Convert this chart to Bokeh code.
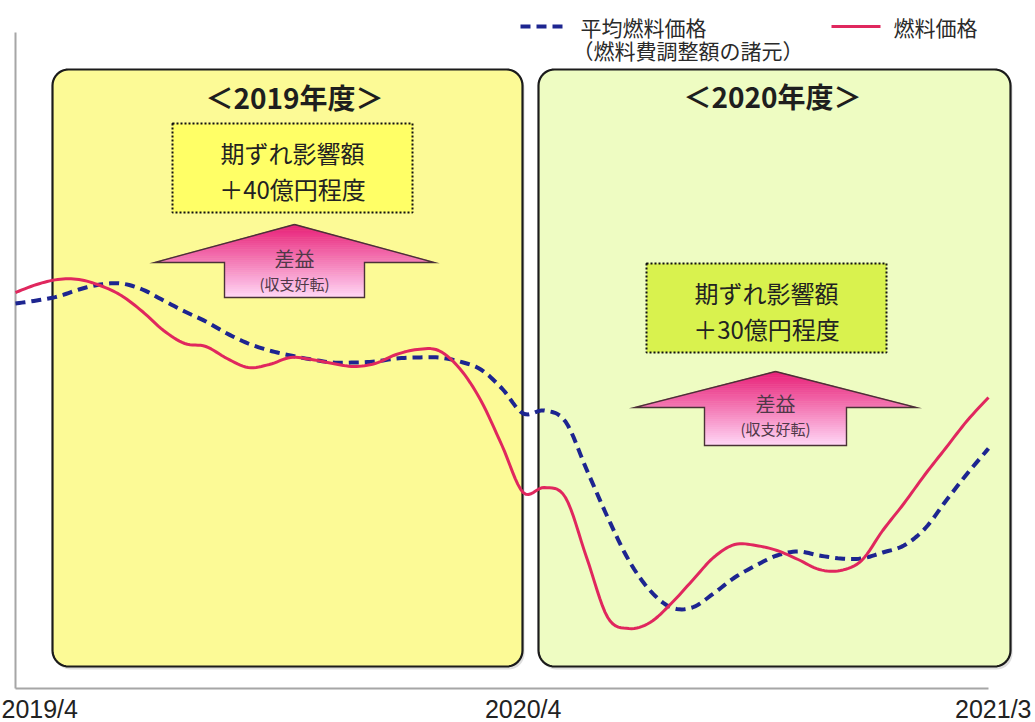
import math
from bokeh.plotting import figure
from bokeh.models import Range1d
from bokeh.core.properties import value
from bokeh.embed import file_html
from bokeh.resources import INLINE

# ---- data: half-month steps, 0 = 2019/4 ... 23 = 2021/3 (relative price level) ----
months = [i * 0.5 for i in range(47)]
fuel_price = [39.6, 40.4, 40.9, 40.9, 40.3, 39.3, 37.7, 35.8, 34.5, 34.2,
              33.0, 32.1, 32.4, 33.1, 32.9, 32.5, 32.2, 32.5, 33.4, 33.9,
              33.8, 32.0, 28.8, 24.3, 19.6, 20.1, 19.1, 13.1, 7.1, 6.0,
              6.6, 8.5, 10.8, 13.1, 14.4, 14.3, 13.8, 12.9, 11.9, 11.8,
              12.8, 15.8, 18.5, 21.4, 24.1, 26.8, 29.1]
avg_fuel_price = [38.5, 38.8, 39.2, 39.9, 40.4, 40.5, 39.9, 38.8, 37.7, 36.7,
                  35.5, 34.5, 33.8, 33.3, 32.9, 32.6, 32.6, 32.7, 33.0, 33.1,
                  33.1, 32.7, 31.9, 30.0, 27.5, 27.8, 26.7, 21.9, 17.1, 12.8,
                  9.8, 8.1, 8.1, 9.5, 11.1, 12.3, 13.3, 13.7, 13.3, 13.0,
                  13.0, 13.6, 14.3, 16.0, 18.8, 21.5, 24.0]
tick_months = [0, 12, 23]
tick_labels = ["2019/4", "2020/4", "2021/3"]
fy_labels = ["＜2019年度＞", "＜2020年度＞"]
impact_title = "期ずれ影響額"
impact_labels = ["＋40億円程度", "＋30億円程度"]
arrow_main = "差益"
arrow_sub = "(収支好転)"
legend_avg = ["平均燃料価格", "（燃料費調整額の諸元）"]
legend_fuel = "燃料価格"

# ---- canvas geometry ----
W, H = 1035, 722
X0, XPM = 15.0, 42.304   # pixel of month 0, pixels per month
Y0, YPU = 688.0, 10.0    # pixel of level 0, pixels per unit


def dx(px):
    return (px - X0) / XPM


def dy(py):
    return (Y0 - py) / YPU


def smooth_path(xs, ys, steps=8):
    """Catmull-Rom curve through the points, for a smoothed line style."""
    n = len(xs)
    ox, oy = [], []
    for i in range(n - 1):
        i0, i1, i2, i3 = max(i - 1, 0), i, i + 1, min(i + 2, n - 1)
        for s in range(steps):
            t = s / steps
            t2, t3 = t * t, t * t * t
            def cr(a):
                return 0.5 * (2 * a[i1] + (-a[i0] + a[i2]) * t +
                              (2 * a[i0] - 5 * a[i1] + 4 * a[i2] - a[i3]) * t2 +
                              (-a[i0] + 3 * a[i1] - 3 * a[i2] + a[i3]) * t3)
            ox.append(cr(xs))
            oy.append(cr(ys))
    ox.append(xs[-1])
    oy.append(ys[-1])
    return ox, oy


CJK = value("Noto Sans CJK JP")

p = figure(width=W, height=H, output_backend="svg", toolbar_location=None,
           x_range=Range1d(dx(0), dx(W)), y_range=Range1d(dy(H), dy(0)),
           x_axis_location=None, y_axis_location=None, min_border=0)
p.grid.visible = False
p.outline_line_color = None
p.background_fill_color = "white"
p.border_fill_color = "white"


def rounded_rect(x1, y1, x2, y2, r, n=10):
    pts = []
    corners = [((x1 + r, y1 + r), math.pi), ((x2 - r, y1 + r), 1.5 * math.pi),
               ((x2 - r, y2 - r), 0.0), ((x1 + r, y2 - r), 0.5 * math.pi)]
    for (cx, cy), a0 in corners:
        for i in range(n + 1):
            t = a0 + 0.5 * math.pi * i / n
            pts.append((cx + r * math.cos(t), cy + r * math.sin(t)))
    return [dx(a) for a, _ in pts], [dy(b) for _, b in pts]


# fiscal-year panels
panels = [(52, 69, 522, 666, "#FCFA96"), (538, 69, 1010, 666, "#EEFCC2")]
for (x1, y1, x2, y2, col) in panels:
    sx, sy = rounded_rect(x1 + 2, y1 + 3, x2 + 2, y2 + 3, 16)
    p.patch(sx, sy, fill_color="#bdbdbd", fill_alpha=0.5, line_color=None)
    xs, ys = rounded_rect(x1, y1, x2, y2, 16)
    p.patch(xs, ys, fill_color=col, line_color="#1b1b1b", line_width=2.2)

# panel headings
p.text(x=[dx(294), dx(772)], y=[dy(96), dy(95)], text=fy_labels,
       text_font=CJK, text_font_style="bold", text_font_size=value("28px"),
       text_color="#1e1e1e", text_align="center", text_baseline="middle")

# impact boxes
boxes = [(172, 123, 412, 212, "#FFFF66"), (646, 263, 886, 352, "#D9F24E")]
for i, (x1, y1, x2, y2, col) in enumerate(boxes):
    p.quad(left=dx(x1), right=dx(x2), top=dy(y1), bottom=dy(y2),
           fill_color=col, line_color="#111111", line_width=2, line_dash="2 2")
    cx = (x1 + x2) / 2
    p.text(x=[dx(cx), dx(cx)], y=[dy(y1 + 29), dy(y1 + 65)],
           text=[impact_title, impact_labels[i]], text_font=CJK,
           text_font_size=value("24px"), text_color="#222222",
           text_align="center", text_baseline="middle")


# up arrows with vertical pink gradient
def up_arrow(cx, ty, wy, ww, sw, by, nb=36):
    c_top = (232, 30, 118)
    c_bot = (255, 214, 246)

    def hw(y):
        return ww * (y - ty) / (wy - ty) if y <= wy else sw

    nh = int(nb * (wy - ty) / (by - ty))
    edges = [ty + (wy - ty) * i / nh for i in range(nh)] + \
            [wy + (by - wy) * i / (nb - nh) for i in range(nb - nh + 1)]
    xs_list, ys_list, cols = [], [], []
    for a, b in zip(edges[:-1], edges[1:]):
        if a >= wy:
            ha = hb = sw
        else:
            ha, hb = hw(a), hw(b)
        px = [cx - ha, cx + ha, cx + hb, cx - hb]
        py = [a, a, b, b]
        xs_list.append([dx(v) for v in px])
        ys_list.append([dy(v) for v in py])
        t = ((a + b) / 2 - ty) / (by - ty)
        c = tuple(int(round(c_top[k] + (c_bot[k] - c_top[k]) * t)) for k in range(3))
        cols.append("#%02x%02x%02x" % c)
    p.patches(xs_list, ys_list, fill_color=cols, line_color=cols, line_width=0.8)
    ox = [cx, cx + ww, cx + sw, cx + sw, cx - sw, cx - sw, cx - ww, cx]
    oy = [ty, wy, wy, by, by, wy, wy, ty]
    p.line([dx(v) for v in ox], [dy(v) for v in oy], line_color="#4a3236",
           line_width=1.4, line_join="miter")
    p.text(x=[dx(cx)], y=[dy(wy - 4)], text=[arrow_main], text_font=CJK,
           text_font_size=value("20px"), text_color="#4f3848",
           text_align="center", text_baseline="middle")
    p.text(x=[dx(cx)], y=[dy(wy + 21)], text=[arrow_sub], text_font=CJK,
           text_font_size=value("15px"), text_color="#4f3848",
           text_align="center", text_baseline="middle")


up_arrow(294, 224, 262, 140, 70, 297)
up_arrow(775, 371, 407, 141, 71, 445)

# axis lines
p.segment(x0=[dx(15), dx(15)], y0=[dy(32), dy(688)], x1=[dx(15), dx(988)],
          y1=[dy(688), dy(688)], line_color="#a6a6a6", line_width=2)

# series, drawn as smoothed lines through the monthly readings
ax, ay = smooth_path(months, avg_fuel_price)
fx, fy = smooth_path(months, fuel_price)
p.line(ax, ay, line_color="#1d2590", line_width=4, line_dash="10 6",
       line_join="round")
p.line(fx, fy, line_color="#e0275e", line_width=3, line_join="round")

# period labels on the time axis
aligns = ["left", "center", "right"]
xpos = [dx(1), tick_months[1], dx(1031)]
for xv, lab, al in zip(xpos, tick_labels, aligns):
    p.text(x=[xv], y=[dy(708)], text=[lab],
           text_font=value("Liberation Sans"), text_font_size=value("25px"),
           text_color="#222222", text_align=al, text_baseline="middle")

# legend
p.line([dx(520), dx(566)], [dy(26), dy(26)], line_color="#1d2590",
       line_width=4, line_dash="10 6")
p.text(x=[dx(580), dx(572)], y=[dy(26), dy(49)], text=legend_avg,
       text_font=CJK, text_font_size=value("21px"), text_color="#2a2a2a",
       text_align="left", text_baseline="middle")
p.line([dx(831), dx(880)], [dy(26), dy(26)], line_color="#e0275e",
       line_width=3)
p.text(x=[dx(893)], y=[dy(26)], text=[legend_fuel], text_font=CJK,
       text_font_size=value("21px"), text_color="#2a2a2a",
       text_align="left", text_baseline="middle")

open("out.html", "w").write(file_html(p, INLINE))
